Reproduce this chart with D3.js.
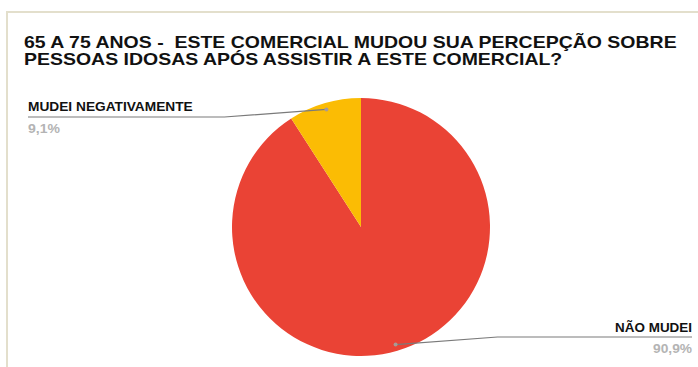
<!DOCTYPE html>
<html>
<head>
<meta charset="utf-8">
<script src="https://cdn.jsdelivr.net/npm/d3@7"></script>
<style>
  html, body { margin: 0; padding: 0; background: #ffffff; }
  svg { display: block; }
  text { white-space: pre; }
</style>
</head>
<body>
<script>
// Survey answers for the 65–75 age group
const categories = ["NÃO MUDEI", "MUDEI NEGATIVAMENTE"];
const values = [90.9, 9.1];
const valueLabels = ["90,9%", "9,1%"];
const colors = ["#ea4335", "#fbbc04"];
const titleLines = [
  "65 A 75 ANOS -  ESTE COMERCIAL MUDOU SUA PERCEPÇÃO SOBRE",
  "PESSOAS IDOSAS APÓS ASSISTIR A ESTE COMERCIAL?"
];

const W = 698, H = 367;
const svg = d3.select("body").append("svg")
  .attr("width", W).attr("height", H);

// Card frame (top and left edges)
svg.append("line").attr("x1", 6).attr("x2", W).attr("y1", 12).attr("y2", 12)
  .attr("stroke", "#e3dfcc").attr("stroke-width", 2);
svg.append("line").attr("x1", 7).attr("x2", 7).attr("y1", 11).attr("y2", H)
  .attr("stroke", "#e3dfcc").attr("stroke-width", 2);

// Squeeze a text horizontally so it spans the given width
function fitWidth(textSel, x, width, anchor) {
  const node = textSel.node();
  const w = node.getComputedTextLength();
  const k = width / w;
  const y = +textSel.attr("y");
  textSel.attr("x", 0).attr("y", 0)
    .attr("text-anchor", anchor || "start")
    .attr("transform", `translate(${x},${y}) scale(${k},1)`);
}

// Title
const titleFont = "Liberation Sans, Arial, sans-serif";
const titleY = [48, 65];
let titleScale = null;
titleLines.forEach((t, i) => {
  const txt = svg.append("text")
    .attr("y", titleY[i])
    .attr("font-family", titleFont)
    .attr("font-weight", "bold")
    .attr("font-size", 16.5)
    .attr("fill", "#111")
    .text(t);
  if (titleScale === null) {
    titleScale = 653 / txt.node().getComputedTextLength();
  }
  txt.attr("transform", `translate(24,${titleY[i]}) scale(${titleScale},1)`).attr("y", 0);
});

// Pie
const cx = 361, cy = 227, R = 129;
const pie = d3.pie().sort(null).value(d => d)(values);
const arc = d3.arc().innerRadius(0).outerRadius(R);
const g = svg.append("g").attr("transform", `translate(${cx},${cy})`);
g.selectAll("path").data(pie).join("path")
  .attr("d", arc)
  .attr("fill", (d, i) => colors[i]);

// Leader lines and labels
const anchorArc = d3.arc().innerRadius(R * 0.95).outerRadius(R * 0.95);
const labelFont = "Liberation Sans, Arial, sans-serif";
const layout = [
  { side: 1, lineY: 337, endX: 692, nameY: 332, valY: 353, nameW: 77, valW: 39 },
  { side: -1, lineY: 117, endX: 28, nameY: 111, valY: 133, nameW: 165, valW: 32 }
];

pie.forEach((d, i) => {
  const L = layout[i];
  const [ax, ay] = anchorArc.centroid(d);
  const px = cx + ax, py = cy + ay;
  const elbowX = px + L.side * 102;
  svg.append("path")
    .attr("d", d3.line()([[px, py], [elbowX, L.lineY], [L.endX, L.lineY]]))
    .attr("fill", "none")
    .attr("stroke", "#7a7a7a")
    .attr("stroke-width", 1.2);
  svg.append("circle").attr("cx", px).attr("cy", py).attr("r", 2)
    .attr("fill", "#a89a94");

  const anchor = L.side > 0 ? "end" : "start";
  const name = svg.append("text")
    .attr("y", L.nameY)
    .attr("font-family", labelFont)
    .attr("font-weight", "bold")
    .attr("font-size", 12.5)
    .attr("fill", "#111")
    .text(categories[i]);
  fitWidth(name, L.endX, L.nameW, anchor);

  const val = svg.append("text")
    .attr("y", L.valY)
    .attr("font-family", labelFont)
    .attr("font-weight", "bold")
    .attr("font-size", 12.5)
    .attr("fill", "#b4b4b4")
    .text(valueLabels[i]);
  fitWidth(val, L.endX, L.valW, anchor);
});
</script>
</body>
</html>
